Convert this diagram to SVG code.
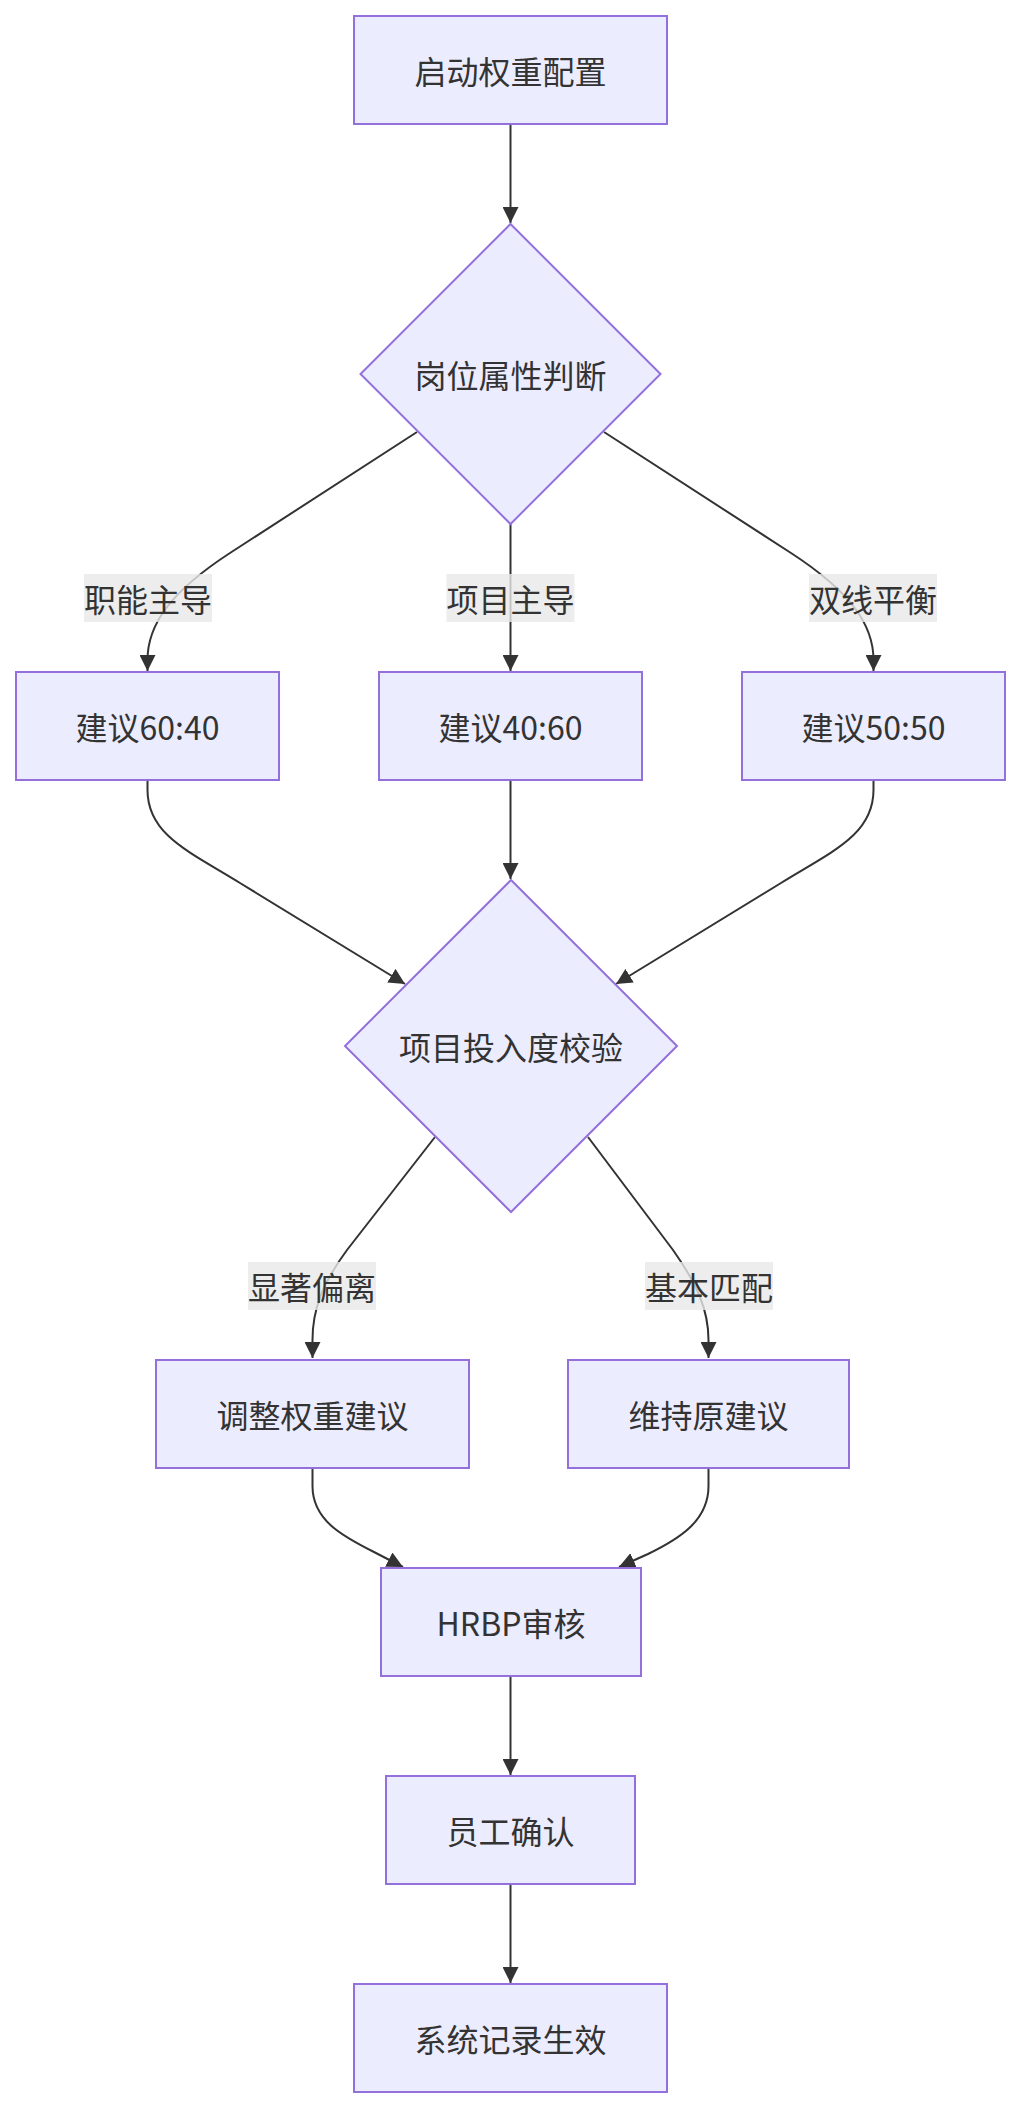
<svg xmlns="http://www.w3.org/2000/svg" width="1020" height="2108" viewBox="0 0 1020 2108">
<style>
  .node rect, .node polygon { fill: #ECECFF; stroke: #9370DB; stroke-width: 2; }
  .node text, .label text { font-family: "Noto Sans CJK SC", "Liberation Sans", sans-serif; font-size: 32px; fill: #333333; text-anchor: middle; dominant-baseline: central; }
  .edge { fill: none; stroke: #333333; stroke-width: 2; marker-end: url(#arrow); }
  .label rect { fill: #E8E8E8; fill-opacity: 0.8; }
</style>
<defs>
  <marker id="arrow" viewBox="0 0 10 10" refX="10" refY="5" markerUnits="userSpaceOnUse" markerWidth="16" markerHeight="16" orient="auto">
    <path d="M0,0 L10,5 L0,10 z" fill="#333333"/>
  </marker>
</defs>
<rect width="1020" height="2108" fill="#ffffff"/>
<g id="connectors">
  <path class="edge" d="M510.5,124 L510.5,223"/>
  <path class="edge" d="M417,432 L230,553 C170,592 147.5,625 147.5,660 L147.5,671"/>
  <path class="edge" d="M510.5,524 L510.5,671"/>
  <path class="edge" d="M604,432 L791,553 C851,592 873.5,625 873.5,660 L873.5,671"/>
  <path class="edge" d="M147.5,780 L147.5,790 C147.5,835 190,852 240,883 L405,984"/>
  <path class="edge" d="M510.5,780 L510.5,879"/>
  <path class="edge" d="M873.5,780 L873.5,790 C873.5,835 831,852 781,883 L616,984"/>
  <path class="edge" d="M435,1137 L347,1250 C322,1284 312.5,1310 312.5,1340 L312.5,1358"/>
  <path class="edge" d="M588,1137 L673,1250 C697,1284 708.5,1310 708.5,1340 L708.5,1358"/>
  <path class="edge" d="M312.5,1468 L312.5,1486 C312.5,1520 342,1536 374,1552 L403,1567"/>
  <path class="edge" d="M708.5,1468 L708.5,1486 C708.5,1520 681,1538 648,1554 L619,1567"/>
  <path class="edge" d="M510.5,1676 L510.5,1775"/>
  <path class="edge" d="M510.5,1884 L510.5,1983"/>
</g>
<g id="edge-labels">
  <g class="label" id="label-zhineng"><rect x="84" y="574" width="128" height="48"/><text x="148" y="598">职能主导</text></g>
  <g class="label" id="label-xiangmu"><rect x="446.5" y="574" width="128" height="48"/><text x="510.5" y="598">项目主导</text></g>
  <g class="label" id="label-shuangxian"><rect x="809" y="574" width="128" height="48"/><text x="873" y="598">双线平衡</text></g>
  <g class="label" id="label-xianzhu"><rect x="248" y="1262" width="128" height="48"/><text x="312" y="1286">显著偏离</text></g>
  <g class="label" id="label-jiben"><rect x="645" y="1262" width="128" height="48"/><text x="709" y="1286">基本匹配</text></g>
</g>
<g class="node" id="node-start"><rect x="354" y="16" width="313" height="108"/><text x="510.5" y="70">启动权重配置</text></g>
<g class="node" id="node-judge"><polygon points="510.5,224 660.5,374 510.5,524 360.5,374"/><text x="510.5" y="374">岗位属性判断</text></g>
<g class="node" id="node-6040"><rect x="16" y="672" width="263" height="108"/><text x="147.5" y="726">建议60:40</text></g>
<g class="node" id="node-4060"><rect x="379" y="672" width="263" height="108"/><text x="510.5" y="726">建议40:60</text></g>
<g class="node" id="node-5050"><rect x="742" y="672" width="263" height="108"/><text x="873.5" y="726">建议50:50</text></g>
<g class="node" id="node-check"><polygon points="511,880 677,1046 511,1212 345,1046"/><text x="511" y="1046">项目投入度校验</text></g>
<g class="node" id="node-adjust"><rect x="156" y="1360" width="313" height="108"/><text x="312.5" y="1414">调整权重建议</text></g>
<g class="node" id="node-keep"><rect x="568" y="1360" width="281" height="108"/><text x="708.5" y="1414">维持原建议</text></g>
<g class="node" id="node-hrbp"><rect x="381" y="1568" width="260" height="108"/><text x="511" y="1622">HRBP审核</text></g>
<g class="node" id="node-confirm"><rect x="386" y="1776" width="249" height="108"/><text x="510.5" y="1830">员工确认</text></g>
<g class="node" id="node-effect"><rect x="354" y="1984" width="313" height="108"/><text x="510.5" y="2038">系统记录生效</text></g>
</svg>
